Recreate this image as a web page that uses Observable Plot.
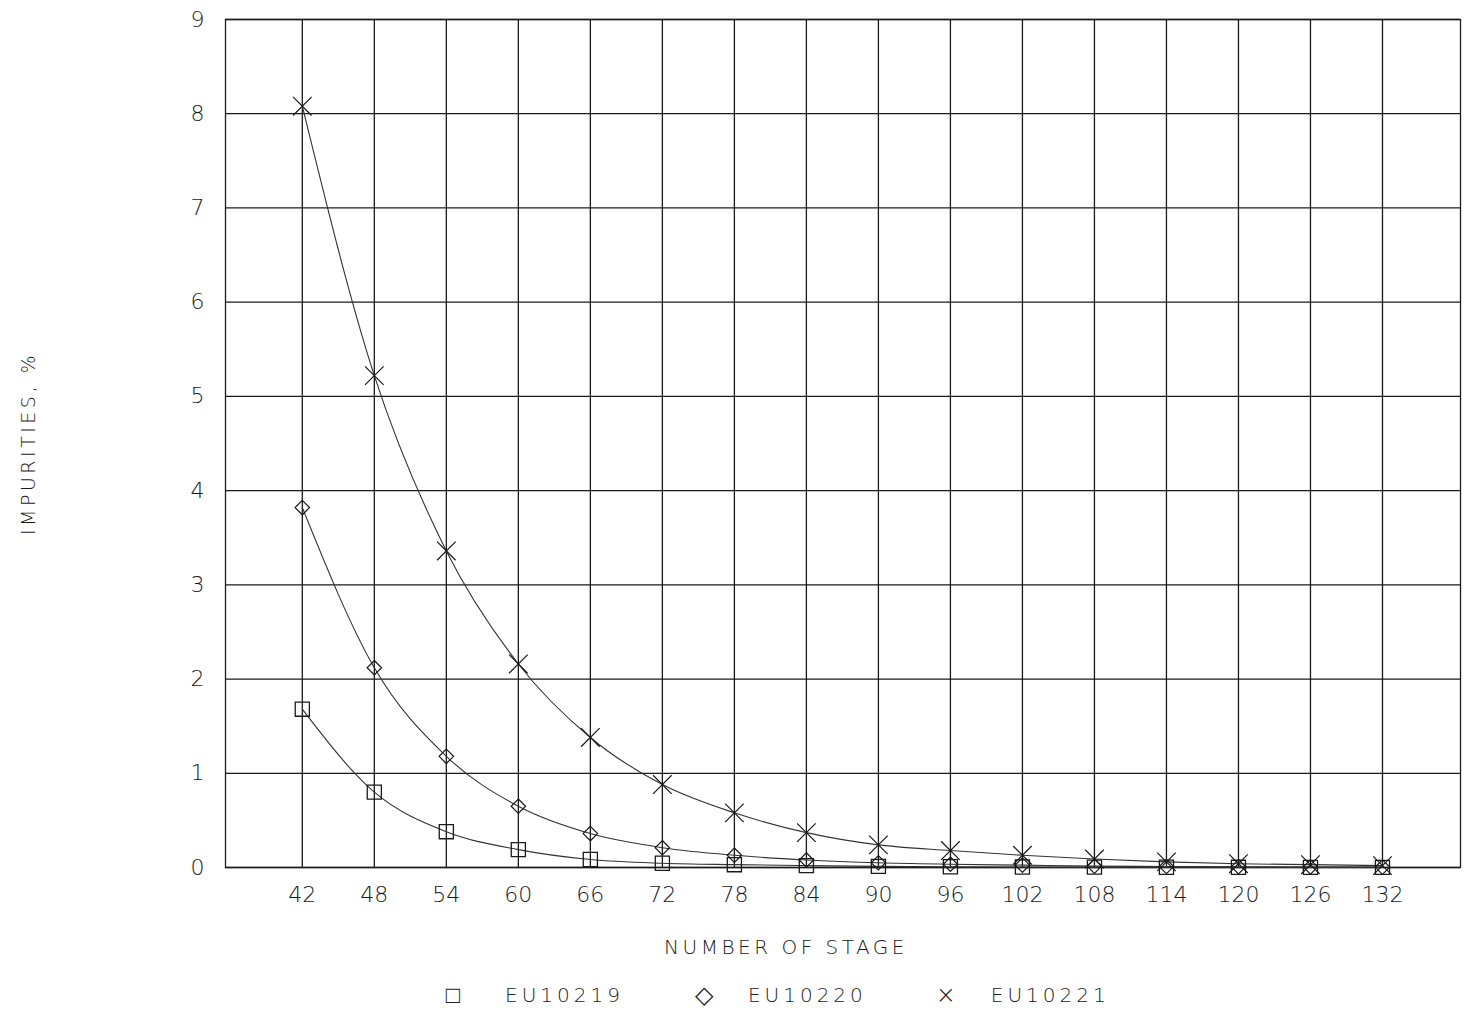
<!DOCTYPE html>
<html>
<head>
<meta charset="utf-8">
<script src="https://cdn.jsdelivr.net/npm/d3@7"></script>
<script src="https://cdn.jsdelivr.net/npm/@observablehq/plot@0.6"></script>
<style>
  html, body { margin: 0; padding: 0; background: #fff; }
  body { width: 1469px; font-family: "DejaVu Sans", sans-serif; font-weight: 200; color: #222; }
  #legend { height: 50px; display: flex; align-items: center; font-size: 20px; letter-spacing: 4px; }
  #legend .sym { display: inline-block; width: 24px; text-align: center; letter-spacing: 0; font-size: 24px; }
  #legend .lab { display: inline-block; }
</style>
</head>
<body>
<div id="chart"></div>
<div id="legend"></div>
<script>
const stages = [42, 48, 54, 60, 66, 72, 78, 84, 90, 96, 102, 108, 114, 120, 126, 132];
const eu10219 = [1.68, 0.80, 0.38, 0.19, 0.085, 0.045, 0.03, 0.02, 0.012, 0.008, 0.005, 0.004, 0.003, 0.002, 0.001, 0.001];
const eu10220 = [3.82, 2.12, 1.18, 0.65, 0.36, 0.21, 0.13, 0.08, 0.05, 0.035, 0.025, 0.015, 0.01, 0.008, 0.005, 0.004];
const eu10221 = [8.08, 5.22, 3.36, 2.16, 1.38, 0.88, 0.58, 0.37, 0.24, 0.18, 0.13, 0.09, 0.06, 0.04, 0.03, 0.02];
const yTicks = [0, 1, 2, 3, 4, 5, 6, 7, 8, 9];
const seriesNames = ["EU10219", "EU10220", "EU10221"];
const legendGlyphs = ["□", "◇", "×"];

const seriesValues = [eu10219, eu10220, eu10221];
const rows = seriesNames.flatMap((name, i) =>
  stages.map((s, j) => ({series: name, stage: s, value: seriesValues[i][j]})));

const ink = "#1a1a1a";
const plot = Plot.plot({
  width: 1469,
  height: 970,
  marginLeft: 225,
  marginRight: 9,
  marginTop: 19,
  marginBottom: 103,
  style: {fontFamily: "DejaVu Sans, sans-serif", fontWeight: 200, color: ink, background: "#fff"},
  x: {domain: [35.6, 138.5]},
  y: {domain: [0, 9]},
  marks: [
    Plot.gridX(stages, {stroke: ink, strokeOpacity: 1, strokeWidth: 1.3}),
    Plot.gridY(yTicks, {stroke: ink, strokeOpacity: 1, strokeWidth: 1.3}),
    Plot.frame({stroke: ink, strokeWidth: 1.3}),
    Plot.axisX(stages, {tickSize: 0, tickPadding: 19, fontSize: 22, label: null, tickFormat: d3.format("d")}),
    Plot.axisY(yTicks, {tickSize: 0, tickPadding: 21, fontSize: 22, label: null, tickFormat: d3.format("d")}),
    Plot.line(rows, {x: "stage", y: "value", z: "series", curve: "monotone-x", stroke: "#333", strokeWidth: 1.1}),
    Plot.dot(rows.filter(d => d.series === "EU10219"), {x: "stage", y: "value", symbol: "square2", r: 9, stroke: ink, strokeWidth: 1.3, fill: "none"}),
    Plot.dot(rows.filter(d => d.series === "EU10220"), {x: "stage", y: "value", symbol: "diamond2", r: 6.5, stroke: ink, strokeWidth: 1.2, fill: "none"}),
    Plot.dot(rows.filter(d => d.series === "EU10221"), {x: "stage", y: "value", symbol: "times", r: 8.5, stroke: ink, strokeWidth: 1.2, fill: "none"}),
    Plot.text(["NUMBER OF STAGE"], {frameAnchor: "bottom", dx: -57, dy: 86, fontSize: 20, fill: ink}),
    Plot.text(["IMPURITIES, %"], {frameAnchor: "left", textAnchor: "middle", dx: -197, rotate: -90, fontSize: 19, fill: ink})
  ]
});
d3.select(plot).selectAll("text")
  .filter(function() { const t = this.textContent; return t === "NUMBER OF STAGE" || t === "IMPURITIES, %"; })
  .attr("letter-spacing", 3.5);
document.getElementById("chart").appendChild(plot);

const legend = d3.select("#legend");
const leftPad = [40, 32, 33];
const rightPad = [68, 67, 0];
legend.append("span").style("display", "inline-block").style("width", "441px");
seriesNames.forEach((name, i) => {
  legend.append("span").attr("class", "sym").text(legendGlyphs[i]);
  legend.append("span").attr("class", "lab")
    .style("margin-left", leftPad[i] + "px")
    .style("margin-right", rightPad[i] + "px")
    .text(name);
});
</script>
</body>
</html>
